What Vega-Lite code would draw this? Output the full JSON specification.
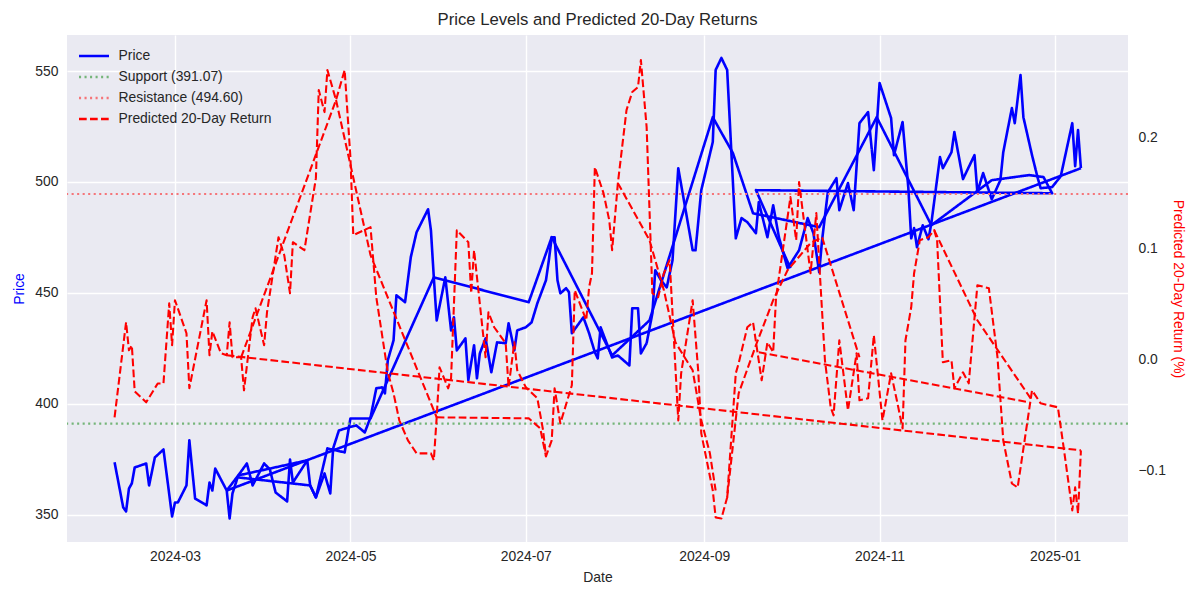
{
  "$schema": "https://vega.github.io/schema/vega-lite/v6.json",
  "width": 1061,
  "height": 507,
  "autosize": {"type": "none"},
  "padding": {"left": 67, "top": 35, "right": 72, "bottom": 58},
  "background": "white",
  "config": {
    "font": "Liberation Sans",
    "view": {"fill": "#EAEAF2", "stroke": null},
    "axis": {
      "grid": true, "gridColor": "white", "gridWidth": 1.4,
      "domain": false, "ticks": false, "tickSize": 0,
      "labelColor": "#262626", "labelFontSize": 13.9, "labelFont": "Liberation Sans",
      "titleColor": "#262626", "titleFontSize": 13.9, "titleFontWeight": "normal", "titleFont": "Liberation Sans"
    },
    "legend": {
      "orient": "none", "legendX": 18, "legendY": 12,
      "symbolType": "M-2,0H2", "symbolSize": 225, "symbolStrokeWidth": 2.3,
      "labelFontSize": 13.9, "labelColor": "#262626", "labelFont": "Liberation Sans",
      "labelOffset": 15.5, "rowPadding": 5
    }
  },
  "title": {"text": "Price Levels and Predicted 20-Day Returns", "fontSize": 16.7, "fontWeight": "normal", "color": "#262626", "font": "Liberation Sans", "offset": 6, "anchor": "middle"},
  "datasets": {
    "price": [
      {"part":"m","i":1,"date":"2024-02-09","price":373.6},
      {"part":"m","i":2,"date":"2024-02-12","price":353.3},
      {"part":"m","i":3,"date":"2024-02-13","price":351.5},
      {"part":"m","i":4,"date":"2024-02-14","price":361.8},
      {"part":"m","i":5,"date":"2024-02-15","price":364.1},
      {"part":"m","i":6,"date":"2024-02-16","price":371.3},
      {"part":"m","i":7,"date":"2024-02-20","price":373.1},
      {"part":"m","i":8,"date":"2024-02-21","price":363.2},
      {"part":"m","i":9,"date":"2024-02-23","price":375.8},
      {"part":"m","i":10,"date":"2024-02-26","price":379.4},
      {"part":"m","i":11,"date":"2024-02-29","price":349.2},
      {"part":"m","i":12,"date":"2024-03-01","price":355.5},
      {"part":"m","i":13,"date":"2024-03-02","price":355.5},
      {"part":"m","i":14,"date":"2024-03-05","price":363.2},
      {"part":"m","i":15,"date":"2024-03-06","price":383.5},
      {"part":"m","i":16,"date":"2024-03-08","price":357.3},
      {"part":"m","i":17,"date":"2024-03-12","price":354.2},
      {"part":"m","i":18,"date":"2024-03-13","price":364.5},
      {"part":"m","i":19,"date":"2024-03-14","price":360.9},
      {"part":"m","i":20,"date":"2024-03-15","price":370.8},
      {"part":"m","i":21,"date":"2024-03-19","price":360.9},
      {"part":"m","i":22,"date":"2024-03-20","price":348.3},
      {"part":"m","i":23,"date":"2024-03-21","price":359.6},
      {"part":"m","i":24,"date":"2024-03-23","price":367.7},
      {"part":"m","i":25,"date":"2024-03-26","price":373.1},
      {"part":"m","i":26,"date":"2024-03-28","price":363.2},
      {"part":"m","i":27,"date":"2024-04-01","price":373.1},
      {"part":"m","i":28,"date":"2024-04-03","price":370.4},
      {"part":"m","i":29,"date":"2024-04-05","price":360.0},
      {"part":"m","i":30,"date":"2024-04-09","price":356.0},
      {"part":"m","i":31,"date":"2024-04-10","price":374.9},
      {"part":"m","i":32,"date":"2024-04-11","price":364.5},
      {"part":"m","i":33,"date":"2024-04-16","price":374.5},
      {"part":"m","i":34,"date":"2024-04-17","price":363.2},
      {"part":"m","i":35,"date":"2024-04-19","price":357.8},
      {"part":"m","i":36,"date":"2024-04-22","price":368.6},
      {"part":"m","i":37,"date":"2024-04-24","price":359.6},
      {"part":"m","i":38,"date":"2024-04-25","price":379.9},
      {"part":"m","i":39,"date":"2024-04-27","price":388.0},
      {"part":"m","i":40,"date":"2024-05-03","price":390.3},
      {"part":"m","i":41,"date":"2024-05-06","price":387.1},
      {"part":"m","i":42,"date":"2024-05-08","price":393.9},
      {"part":"m","i":43,"date":"2024-05-10","price":407.0},
      {"part":"m","i":44,"date":"2024-05-12","price":407.4},
      {"part":"m","i":45,"date":"2024-05-13","price":404.7},
      {"part":"m","i":46,"date":"2024-05-14","price":419.6},
      {"part":"m","i":47,"date":"2024-05-16","price":428.6},
      {"part":"m","i":48,"date":"2024-05-17","price":448.9},
      {"part":"m","i":49,"date":"2024-05-20","price":445.8},
      {"part":"m","i":50,"date":"2024-05-22","price":466.1},
      {"part":"m","i":51,"date":"2024-05-24","price":477.3},
      {"part":"m","i":52,"date":"2024-05-28","price":487.7},
      {"part":"m","i":53,"date":"2024-05-29","price":478.2},
      {"part":"m","i":54,"date":"2024-05-30","price":457.0},
      {"part":"m","i":55,"date":"2024-05-31","price":437.6},
      {"part":"m","i":56,"date":"2024-06-03","price":457.0},
      {"part":"m","i":57,"date":"2024-06-05","price":433.1},
      {"part":"m","i":58,"date":"2024-06-06","price":439.0},
      {"part":"m","i":59,"date":"2024-06-07","price":424.1},
      {"part":"m","i":60,"date":"2024-06-10","price":429.5},
      {"part":"m","i":61,"date":"2024-06-11","price":410.6},
      {"part":"m","i":62,"date":"2024-06-13","price":426.4},
      {"part":"m","i":63,"date":"2024-06-14","price":411.5},
      {"part":"m","i":64,"date":"2024-06-15","price":422.7},
      {"part":"m","i":65,"date":"2024-06-17","price":429.5},
      {"part":"m","i":66,"date":"2024-06-19","price":414.2},
      {"part":"m","i":67,"date":"2024-06-21","price":427.7},
      {"part":"m","i":68,"date":"2024-06-24","price":427.3},
      {"part":"m","i":69,"date":"2024-06-25","price":436.3},
      {"part":"m","i":70,"date":"2024-06-27","price":424.1},
      {"part":"m","i":71,"date":"2024-06-28","price":433.1},
      {"part":"m","i":72,"date":"2024-07-01","price":434.5},
      {"part":"m","i":73,"date":"2024-07-03","price":436.7},
      {"part":"m","i":74,"date":"2024-07-05","price":445.3},
      {"part":"m","i":75,"date":"2024-07-08","price":455.7},
      {"part":"m","i":76,"date":"2024-07-09","price":464.7},
      {"part":"m","i":77,"date":"2024-07-10","price":475.1},
      {"part":"m","i":78,"date":"2024-07-11","price":475.1},
      {"part":"m","i":79,"date":"2024-07-12","price":455.7},
      {"part":"m","i":80,"date":"2024-07-13","price":449.8},
      {"part":"m","i":81,"date":"2024-07-15","price":452.1},
      {"part":"m","i":82,"date":"2024-07-16","price":450.3},
      {"part":"m","i":83,"date":"2024-07-17","price":431.8},
      {"part":"m","i":84,"date":"2024-07-21","price":439.0},
      {"part":"m","i":85,"date":"2024-07-23","price":431.8},
      {"part":"m","i":86,"date":"2024-07-25","price":423.2},
      {"part":"m","i":87,"date":"2024-07-26","price":420.5},
      {"part":"m","i":88,"date":"2024-07-27","price":434.5},
      {"part":"m","i":89,"date":"2024-07-31","price":420.9},
      {"part":"m","i":90,"date":"2024-08-02","price":421.8},
      {"part":"m","i":91,"date":"2024-08-06","price":417.3},
      {"part":"m","i":92,"date":"2024-08-07","price":443.1},
      {"part":"m","i":93,"date":"2024-08-09","price":443.1},
      {"part":"m","i":94,"date":"2024-08-10","price":422.7},
      {"part":"m","i":95,"date":"2024-08-12","price":427.3},
      {"part":"m","i":96,"date":"2024-08-14","price":440.8},
      {"part":"m","i":97,"date":"2024-08-15","price":460.2},
      {"part":"m","i":98,"date":"2024-08-17","price":455.7},
      {"part":"m","i":99,"date":"2024-08-19","price":452.5},
      {"part":"m","i":100,"date":"2024-08-21","price":464.7},
      {"part":"m","i":101,"date":"2024-08-23","price":506.2},
      {"part":"m","i":102,"date":"2024-08-28","price":469.2},
      {"part":"m","i":103,"date":"2024-08-29","price":469.2},
      {"part":"m","i":104,"date":"2024-08-31","price":496.3},
      {"part":"m","i":105,"date":"2024-09-04","price":518.0},
      {"part":"m","i":106,"date":"2024-09-05","price":550.5},
      {"part":"m","i":107,"date":"2024-09-07","price":555.9},
      {"part":"m","i":108,"date":"2024-09-09","price":550.5},
      {"part":"m","i":109,"date":"2024-09-12","price":474.6},
      {"part":"m","i":110,"date":"2024-09-14","price":483.7},
      {"part":"m","i":111,"date":"2024-09-16","price":481.9},
      {"part":"m","i":112,"date":"2024-09-19","price":476.9},
      {"part":"m","i":113,"date":"2024-09-20","price":490.9},
      {"part":"m","i":114,"date":"2024-09-23","price":475.1},
      {"part":"m","i":115,"date":"2024-09-25","price":489.5},
      {"part":"m","i":116,"date":"2024-09-27","price":475.1},
      {"part":"m","i":117,"date":"2024-09-30","price":461.1},
      {"part":"m","i":118,"date":"2024-10-04","price":469.2},
      {"part":"m","i":119,"date":"2024-10-07","price":483.7},
      {"part":"m","i":120,"date":"2024-10-09","price":476.9},
      {"part":"m","i":121,"date":"2024-10-11","price":459.3},
      {"part":"m","i":122,"date":"2024-10-12","price":473.7},
      {"part":"m","i":123,"date":"2024-10-14","price":495.4},
      {"part":"m","i":124,"date":"2024-10-17","price":501.7},
      {"part":"m","i":125,"date":"2024-10-18","price":487.3},
      {"part":"m","i":126,"date":"2024-10-21","price":499.5},
      {"part":"m","i":127,"date":"2024-10-23","price":487.3},
      {"part":"m","i":128,"date":"2024-10-25","price":526.5},
      {"part":"m","i":129,"date":"2024-10-28","price":531.5},
      {"part":"m","i":130,"date":"2024-10-30","price":505.3},
      {"part":"m","i":131,"date":"2024-11-01","price":544.6},
      {"part":"m","i":132,"date":"2024-11-05","price":528.8},
      {"part":"m","i":133,"date":"2024-11-06","price":512.1},
      {"part":"m","i":134,"date":"2024-11-09","price":527.0},
      {"part":"m","i":135,"date":"2024-11-11","price":497.2},
      {"part":"m","i":136,"date":"2024-11-12","price":474.6},
      {"part":"m","i":137,"date":"2024-11-13","price":479.2},
      {"part":"m","i":138,"date":"2024-11-14","price":470.6},
      {"part":"m","i":139,"date":"2024-11-16","price":480.5},
      {"part":"m","i":140,"date":"2024-11-18","price":474.2},
      {"part":"m","i":141,"date":"2024-11-19","price":481.4},
      {"part":"m","i":142,"date":"2024-11-22","price":511.2},
      {"part":"m","i":143,"date":"2024-11-23","price":506.2},
      {"part":"m","i":144,"date":"2024-11-26","price":513.4},
      {"part":"m","i":145,"date":"2024-11-27","price":522.5},
      {"part":"m","i":146,"date":"2024-11-30","price":501.3},
      {"part":"m","i":147,"date":"2024-12-04","price":512.1},
      {"part":"m","i":148,"date":"2024-12-05","price":495.4},
      {"part":"m","i":149,"date":"2024-12-07","price":504.0},
      {"part":"m","i":150,"date":"2024-12-10","price":492.2},
      {"part":"m","i":151,"date":"2024-12-13","price":500.8},
      {"part":"m","i":152,"date":"2024-12-14","price":513.4},
      {"part":"m","i":153,"date":"2024-12-17","price":533.3},
      {"part":"m","i":154,"date":"2024-12-18","price":526.5},
      {"part":"m","i":155,"date":"2024-12-20","price":548.2},
      {"part":"m","i":156,"date":"2024-12-21","price":529.2},
      {"part":"m","i":157,"date":"2024-12-24","price":512.1},
      {"part":"m","i":158,"date":"2024-12-26","price":501.7},
      {"part":"m","i":159,"date":"2024-12-27","price":497.2},
      {"part":"m","i":160,"date":"2024-12-31","price":497.7},
      {"part":"m","i":161,"date":"2025-01-03","price":502.6},
      {"part":"m","i":162,"date":"2025-01-07","price":526.5},
      {"part":"m","i":163,"date":"2025-01-08","price":507.1},
      {"part":"m","i":164,"date":"2025-01-09","price":523.4},
      {"part":"m","i":165,"date":"2025-01-10","price":506.2},
      {"part":"s1","i":1,"date":"2024-03-19","price":360.9},
      {"part":"s1","i":2,"date":"2025-01-10","price":506.2},
      {"part":"h2a","i":1,"date":"2024-03-19","price":360.9},
      {"part":"h2a","i":2,"date":"2024-03-23","price":367.7},
      {"part":"h2a","i":3,"date":"2024-04-16","price":374.5},
      {"part":"h2b","i":1,"date":"2024-03-23","price":366.8},
      {"part":"h2b","i":2,"date":"2024-04-17","price":363.2},
      {"part":"b3","i":1,"date":"2024-04-17","price":363.2},
      {"part":"b3","i":2,"date":"2024-04-19","price":357.8},
      {"part":"b3","i":3,"date":"2024-04-23","price":379.9},
      {"part":"b3","i":4,"date":"2024-04-29","price":378.1},
      {"part":"b3","i":5,"date":"2024-05-01","price":393.4},
      {"part":"b3","i":6,"date":"2024-05-08","price":393.4},
      {"part":"b3","i":7,"date":"2024-05-30","price":457.0},
      {"part":"b3","i":8,"date":"2024-07-02","price":445.8},
      {"part":"b3","i":9,"date":"2024-07-10","price":475.1},
      {"part":"b3","i":10,"date":"2024-07-31","price":421.8},
      {"part":"b3","i":11,"date":"2024-08-13","price":437.6},
      {"part":"b3","i":12,"date":"2024-09-04","price":529.2},
      {"part":"b3","i":13,"date":"2024-09-11","price":513.0},
      {"part":"b3","i":14,"date":"2024-09-18","price":485.9},
      {"part":"b3","i":15,"date":"2024-10-11","price":479.6},
      {"part":"b3","i":16,"date":"2024-10-31","price":529.2},
      {"part":"b3","i":17,"date":"2024-11-19","price":480.5},
      {"part":"b3","i":18,"date":"2024-12-10","price":500.8},
      {"part":"b3","i":19,"date":"2024-12-23","price":503.1},
      {"part":"b3","i":20,"date":"2024-12-28","price":502.2},
      {"part":"b3","i":21,"date":"2024-12-31","price":494.9},
      {"part":"b3","i":22,"date":"2024-09-19","price":496.3},
      {"part":"b3","i":23,"date":"2024-10-01","price":461.1}
    ],
    "levels": [
      {"series":"Support (391.07)","level":391.07},
      {"series":"Resistance (494.60)","level":494.60}
    ],
    "ret": [
      {"part":"m","i":1,"date":"2024-02-09","ret":-0.0519},
      {"part":"m","i":2,"date":"2024-02-13","ret":0.0336},
      {"part":"m","i":3,"date":"2024-02-14","ret":0.0084},
      {"part":"m","i":4,"date":"2024-02-15","ret":0.0129},
      {"part":"m","i":5,"date":"2024-02-16","ret":-0.0285},
      {"part":"m","i":6,"date":"2024-02-20","ret":-0.0384},
      {"part":"m","i":7,"date":"2024-02-24","ret":-0.0214},
      {"part":"m","i":8,"date":"2024-02-26","ret":-0.0214},
      {"part":"m","i":9,"date":"2024-02-28","ret":0.0507},
      {"part":"m","i":10,"date":"2024-02-29","ret":0.0129},
      {"part":"m","i":11,"date":"2024-03-01","ret":0.0534},
      {"part":"m","i":12,"date":"2024-03-05","ret":0.0237},
      {"part":"m","i":13,"date":"2024-03-06","ret":-0.0258},
      {"part":"m","i":14,"date":"2024-03-12","ret":0.0534},
      {"part":"m","i":15,"date":"2024-03-13","ret":0.0039},
      {"part":"m","i":16,"date":"2024-03-14","ret":0.0255},
      {"part":"m","i":17,"date":"2024-03-17","ret":0.0057},
      {"part":"m","i":18,"date":"2024-03-19","ret":0.0039},
      {"part":"m","i":19,"date":"2024-03-20","ret":0.0336},
      {"part":"m","i":20,"date":"2024-03-21","ret":0.0021},
      {"part":"m","i":21,"date":"2024-03-24","ret":0.0021},
      {"part":"m","i":22,"date":"2024-03-25","ret":-0.0276},
      {"part":"m","i":23,"date":"2024-03-28","ret":0.0381},
      {"part":"m","i":24,"date":"2024-03-29","ret":0.0462},
      {"part":"m","i":25,"date":"2024-04-01","ret":0.0129},
      {"part":"m","i":26,"date":"2024-04-02","ret":0.0426},
      {"part":"m","i":27,"date":"2024-04-06","ret":0.1101},
      {"part":"m","i":28,"date":"2024-04-08","ret":0.0939},
      {"part":"m","i":29,"date":"2024-04-10","ret":0.0597},
      {"part":"m","i":30,"date":"2024-04-11","ret":0.1056},
      {"part":"m","i":31,"date":"2024-04-15","ret":0.0984},
      {"part":"m","i":32,"date":"2024-04-19","ret":0.1632},
      {"part":"m","i":33,"date":"2024-04-20","ret":0.2424},
      {"part":"m","i":34,"date":"2024-04-22","ret":0.2226},
      {"part":"m","i":35,"date":"2024-04-23","ret":0.2604},
      {"part":"m","i":36,"date":"2024-04-26","ret":0.2334},
      {"part":"m","i":37,"date":"2024-04-29","ret":0.2604},
      {"part":"m","i":38,"date":"2024-05-01","ret":0.1821},
      {"part":"m","i":39,"date":"2024-05-02","ret":0.1119},
      {"part":"m","i":40,"date":"2024-05-08","ret":0.1191},
      {"part":"m","i":41,"date":"2024-05-10","ret":0.0561},
      {"part":"m","i":42,"date":"2024-05-14","ret":-0.0114},
      {"part":"m","i":43,"date":"2024-05-16","ret":-0.0303},
      {"part":"m","i":44,"date":"2024-05-18","ret":-0.0546},
      {"part":"m","i":45,"date":"2024-05-21","ret":-0.0726},
      {"part":"m","i":46,"date":"2024-05-24","ret":-0.0843},
      {"part":"m","i":47,"date":"2024-05-29","ret":-0.0843},
      {"part":"m","i":48,"date":"2024-05-30","ret":-0.0906},
      {"part":"m","i":49,"date":"2024-05-31","ret":-0.0519},
      {"part":"m","i":50,"date":"2024-06-01","ret":-0.0069},
      {"part":"m","i":51,"date":"2024-06-04","ret":-0.0258},
      {"part":"m","i":52,"date":"2024-06-05","ret":-0.0168},
      {"part":"m","i":53,"date":"2024-06-07","ret":0.1164},
      {"part":"m","i":54,"date":"2024-06-11","ret":0.1056},
      {"part":"m","i":55,"date":"2024-06-12","ret":0.0597},
      {"part":"m","i":56,"date":"2024-06-13","ret":0.0984},
      {"part":"m","i":57,"date":"2024-06-17","ret":0.0021},
      {"part":"m","i":58,"date":"2024-06-18","ret":0.0426},
      {"part":"m","i":59,"date":"2024-06-20","ret":0.0291},
      {"part":"m","i":60,"date":"2024-06-24","ret":0.0147},
      {"part":"m","i":61,"date":"2024-06-25","ret":-0.0249},
      {"part":"m","i":62,"date":"2024-06-27","ret":0.0156},
      {"part":"m","i":63,"date":"2024-06-28","ret":-0.0096},
      {"part":"m","i":64,"date":"2024-07-01","ret":-0.0249},
      {"part":"m","i":65,"date":"2024-07-05","ret":-0.0348},
      {"part":"m","i":66,"date":"2024-07-07","ret":-0.0636},
      {"part":"m","i":67,"date":"2024-07-08","ret":-0.0870},
      {"part":"m","i":68,"date":"2024-07-10","ret":-0.0726},
      {"part":"m","i":69,"date":"2024-07-11","ret":-0.0258},
      {"part":"m","i":70,"date":"2024-07-13","ret":-0.0573},
      {"part":"m","i":71,"date":"2024-07-17","ret":-0.0231},
      {"part":"m","i":72,"date":"2024-07-18","ret":0.0624},
      {"part":"m","i":73,"date":"2024-07-22","ret":0.0354},
      {"part":"m","i":74,"date":"2024-07-23","ret":0.0651},
      {"part":"m","i":75,"date":"2024-07-24","ret":0.0777},
      {"part":"m","i":76,"date":"2024-07-25","ret":0.1731},
      {"part":"m","i":77,"date":"2024-07-28","ret":0.1497},
      {"part":"m","i":78,"date":"2024-07-30","ret":0.1254},
      {"part":"m","i":79,"date":"2024-07-31","ret":0.0984},
      {"part":"m","i":80,"date":"2024-08-02","ret":0.1587},
      {"part":"m","i":81,"date":"2024-08-05","ret":0.2244},
      {"part":"m","i":82,"date":"2024-08-07","ret":0.2406},
      {"part":"m","i":83,"date":"2024-08-09","ret":0.2451},
      {"part":"m","i":84,"date":"2024-08-10","ret":0.2694},
      {"part":"m","i":85,"date":"2024-08-12","ret":0.2091},
      {"part":"m","i":86,"date":"2024-08-14","ret":0.0597},
      {"part":"m","i":87,"date":"2024-08-16","ret":0.0561},
      {"part":"m","i":88,"date":"2024-08-18","ret":0.0777},
      {"part":"m","i":89,"date":"2024-08-20","ret":0.0894},
      {"part":"m","i":90,"date":"2024-08-23","ret":-0.0546},
      {"part":"m","i":91,"date":"2024-08-24","ret":-0.0123},
      {"part":"m","i":92,"date":"2024-08-28","ret":0.0534},
      {"part":"m","i":93,"date":"2024-08-30","ret":-0.0123},
      {"part":"m","i":94,"date":"2024-08-31","ret":-0.0663},
      {"part":"m","i":95,"date":"2024-09-04","ret":-0.1177},
      {"part":"m","i":96,"date":"2024-09-05","ret":-0.1419},
      {"part":"m","i":97,"date":"2024-09-07","ret":-0.1428},
      {"part":"m","i":98,"date":"2024-09-09","ret":-0.1239},
      {"part":"m","i":99,"date":"2024-09-12","ret":-0.0123},
      {"part":"m","i":100,"date":"2024-09-13","ret":-0.0033},
      {"part":"m","i":101,"date":"2024-09-16","ret":0.0291},
      {"part":"m","i":102,"date":"2024-09-18","ret":0.0336},
      {"part":"m","i":103,"date":"2024-09-21","ret":-0.0186},
      {"part":"m","i":104,"date":"2024-09-23","ret":0.0156},
      {"part":"m","i":105,"date":"2024-09-25","ret":0.0066},
      {"part":"m","i":106,"date":"2024-09-26","ret":0.0561},
      {"part":"m","i":107,"date":"2024-10-01","ret":0.1461},
      {"part":"m","i":108,"date":"2024-10-03","ret":0.1074},
      {"part":"m","i":109,"date":"2024-10-04","ret":0.1596},
      {"part":"m","i":110,"date":"2024-10-08","ret":0.0777},
      {"part":"m","i":111,"date":"2024-10-10","ret":0.1317},
      {"part":"m","i":112,"date":"2024-10-13","ret":-0.0006},
      {"part":"m","i":113,"date":"2024-10-15","ret":-0.0429},
      {"part":"m","i":114,"date":"2024-10-16","ret":-0.0501},
      {"part":"m","i":115,"date":"2024-10-18","ret":0.0174},
      {"part":"m","i":116,"date":"2024-10-21","ret":-0.0457},
      {"part":"m","i":117,"date":"2024-10-24","ret":0.0057},
      {"part":"m","i":118,"date":"2024-10-25","ret":-0.0366},
      {"part":"m","i":119,"date":"2024-10-28","ret":-0.0348},
      {"part":"m","i":120,"date":"2024-10-30","ret":0.0219},
      {"part":"m","i":121,"date":"2024-11-02","ret":-0.0546},
      {"part":"m","i":122,"date":"2024-11-05","ret":-0.0123},
      {"part":"m","i":123,"date":"2024-11-07","ret":-0.0366},
      {"part":"m","i":124,"date":"2024-11-09","ret":-0.0618},
      {"part":"m","i":125,"date":"2024-11-10","ret":0.0174},
      {"part":"m","i":126,"date":"2024-11-12","ret":0.0471},
      {"part":"m","i":127,"date":"2024-11-13","ret":0.0777},
      {"part":"m","i":128,"date":"2024-11-15","ret":0.1074},
      {"part":"m","i":129,"date":"2024-11-18","ret":0.1101},
      {"part":"m","i":130,"date":"2024-11-20","ret":0.1164},
      {"part":"m","i":131,"date":"2024-11-21","ret":0.1074},
      {"part":"m","i":132,"date":"2024-11-23","ret":-0.0024},
      {"part":"m","i":133,"date":"2024-11-26","ret":-0.0006},
      {"part":"m","i":134,"date":"2024-11-27","ret":-0.0258},
      {"part":"m","i":135,"date":"2024-11-30","ret":-0.0114},
      {"part":"m","i":136,"date":"2024-12-02","ret":-0.0213},
      {"part":"m","i":137,"date":"2024-12-05","ret":0.0669},
      {"part":"m","i":138,"date":"2024-12-09","ret":0.0642},
      {"part":"m","i":139,"date":"2024-12-12","ret":0.0021},
      {"part":"m","i":140,"date":"2024-12-14","ret":-0.0726},
      {"part":"m","i":141,"date":"2024-12-17","ret":-0.1114},
      {"part":"m","i":142,"date":"2024-12-19","ret":-0.1150},
      {"part":"m","i":143,"date":"2024-12-24","ret":-0.0276},
      {"part":"m","i":144,"date":"2024-12-27","ret":-0.0393},
      {"part":"m","i":145,"date":"2025-01-02","ret":-0.0429},
      {"part":"m","i":146,"date":"2025-01-04","ret":-0.0789},
      {"part":"m","i":147,"date":"2025-01-07","ret":-0.1356},
      {"part":"m","i":148,"date":"2025-01-08","ret":-0.1149},
      {"part":"m","i":149,"date":"2025-01-09","ret":-0.1383},
      {"part":"m","i":150,"date":"2025-01-10","ret":-0.0816},
      {"part":"s1","i":1,"date":"2024-03-19","ret":0.0039},
      {"part":"s1","i":2,"date":"2025-01-10","ret":-0.0816},
      {"part":"r1","i":1,"date":"2024-03-24","ret":0.0021},
      {"part":"r1","i":2,"date":"2024-04-26","ret":0.2334},
      {"part":"r2","i":1,"date":"2024-04-26","ret":0.2334},
      {"part":"r2","i":2,"date":"2024-05-08","ret":0.0939},
      {"part":"r2","i":3,"date":"2024-05-31","ret":-0.0519},
      {"part":"r3","i":1,"date":"2024-05-31","ret":-0.0519},
      {"part":"r3","i":2,"date":"2024-07-02","ret":-0.0528},
      {"part":"r3","i":3,"date":"2024-07-06","ret":-0.0618},
      {"part":"r3","i":4,"date":"2024-07-08","ret":-0.0870},
      {"part":"r6","i":1,"date":"2024-08-02","ret":0.1587},
      {"part":"r6","i":2,"date":"2024-08-13","ret":0.1074},
      {"part":"r6","i":3,"date":"2024-08-18","ret":0.0624},
      {"part":"r6","i":4,"date":"2024-08-22","ret":0.0156},
      {"part":"r6","i":5,"date":"2024-08-28","ret":-0.0096},
      {"part":"r6","i":6,"date":"2024-08-31","ret":-0.0546},
      {"part":"r6","i":7,"date":"2024-09-03","ret":-0.0843},
      {"part":"r6","i":8,"date":"2024-09-05","ret":-0.1177},
      {"part":"pb","i":1,"date":"2024-09-09","ret":-0.1239},
      {"part":"pb","i":2,"date":"2024-09-13","ret":-0.0303},
      {"part":"pb","i":3,"date":"2024-09-19","ret":0.0129},
      {"part":"pb","i":4,"date":"2024-09-25","ret":0.0534},
      {"part":"pb","i":5,"date":"2024-09-30","ret":0.0804},
      {"part":"pb","i":6,"date":"2024-10-08","ret":0.1047},
      {"part":"pb","i":7,"date":"2024-10-12","ret":0.1101},
      {"part":"pb","i":8,"date":"2024-10-25","ret":0.0021},
      {"part":"r5","i":1,"date":"2024-09-20","ret":0.0066},
      {"part":"r5","i":2,"date":"2024-12-23","ret":-0.0384},
      {"part":"r8","i":1,"date":"2024-11-20","ret":0.1164},
      {"part":"r8","i":2,"date":"2024-12-05","ret":0.0354},
      {"part":"r8","i":3,"date":"2024-12-24","ret":-0.0366}
    ]
  },
  "layer": [
    {
      "layer": [
        {
          "data": {"name": "price"},
          "mark": {"type": "line", "strokeWidth": 2.6, "strokeJoin": "round"},
          "encoding": {
            "x": {
              "field": "date", "type": "temporal",
              "scale": {"type": "utc", "domain": [{"year": 2024, "month": 1, "date": 23, "hours": 11, "utc": true}, {"year": 2025, "month": 1, "date": 26, "hours": 9, "utc": true}]},
              "axis": {
                "title": "Date", "format": "%Y-%m", "labelPadding": 7, "titlePadding": 8,
                "values": [
                  {"year": 2024, "month": 3, "date": 1, "utc": true},
                  {"year": 2024, "month": 5, "date": 1, "utc": true},
                  {"year": 2024, "month": 7, "date": 1, "utc": true},
                  {"year": 2024, "month": 9, "date": 1, "utc": true},
                  {"year": 2024, "month": 11, "date": 1, "utc": true},
                  {"year": 2025, "month": 1, "date": 1, "utc": true}
                ]
              }
            },
            "y": {
              "field": "price", "type": "quantitative",
              "scale": {"domain": [337.7, 566.25], "nice": false, "zero": false},
              "axis": {"title": "Price", "titleColor": "#0000FF", "values": [350, 400, 450, 500, 550], "labelPadding": 9, "titlePadding": 8}
            },
            "order": {"field": "i"},
            "detail": {"field": "part"},
            "color": {
              "datum": "Price",
              "scale": {"domain": ["Price", "Support (391.07)", "Resistance (494.60)", "Predicted 20-Day Return"], "range": ["#0000FF", "#75B579", "#F57579", "#FF0000"]},
              "legend": {"title": null}
            },
            "strokeDash": {
              "datum": "Price",
              "scale": {"domain": ["Price", "Support (391.07)", "Resistance (494.60)", "Predicted 20-Day Return"], "range": [[1, 0], [2.08, 3.44], [2.08, 3.44], [7.7, 3.3]]},
              "legend": {"title": null}
            }
          }
        },
        {
          "data": {"name": "levels"},
          "mark": {"type": "rule", "strokeWidth": 2.08},
          "encoding": {
            "y": {"field": "level", "type": "quantitative"},
            "color": {"field": "series", "type": "nominal", "legend": {"title": null}},
            "strokeDash": {"field": "series", "type": "nominal", "legend": {"title": null}}
          }
        }
      ]
    },
    {
      "data": {"name": "ret"},
      "mark": {"type": "line", "strokeWidth": 2.08, "strokeJoin": "round"},
      "encoding": {
        "x": {"field": "date", "type": "temporal"},
        "y": {
          "field": "ret", "type": "quantitative",
          "scale": {"domain": [-0.164, 0.2919], "nice": false, "zero": false},
          "axis": {"orient": "right", "title": "Predicted 20-Day Return (%)", "titleColor": "#FF0000", "values": [-0.1, 0, 0.1, 0.2], "format": ".1f", "labelPadding": 10, "titlePadding": 5}
        },
        "order": {"field": "i"},
        "detail": {"field": "part"},
        "color": {"datum": "Predicted 20-Day Return", "legend": {"title": null}},
        "strokeDash": {"datum": "Predicted 20-Day Return", "legend": {"title": null}}
      }
    }
  ],
  "resolve": {"scale": {"y": "independent"}}
}
